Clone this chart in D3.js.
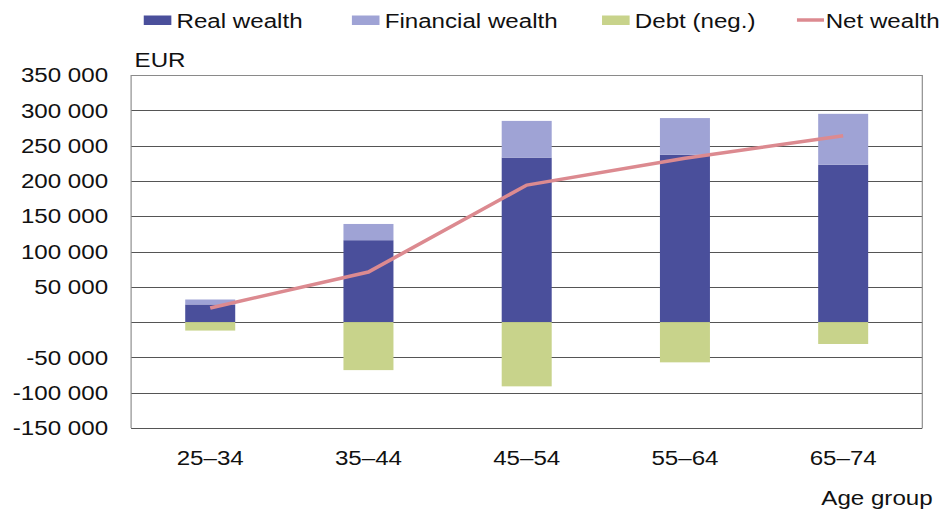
<!DOCTYPE html>
<html>
<head>
<meta charset="utf-8">
<script src="https://cdn.jsdelivr.net/npm/d3@7"></script>
<style>
  body { margin: 0; background: #fff; }
  text { font-family: "Liberation Sans", Arial, sans-serif; fill: #111; }
</style>
</head>
<body>
<script>
// values, EUR
const ageGroups = ["25–34", "35–44", "45–54", "55–64", "65–74"];
const realWealth = [25000, 116000, 233000, 237000, 223000];
const financialWealth = [7000, 23000, 52000, 52000, 72000];
const debt = [-12000, -68000, -91000, -57000, -31000];
const netWealth = [20000, 71000, 194000, 232000, 264000];
const yTicks = [-150000, -100000, -50000, 0, 50000, 100000, 150000, 200000, 250000, 300000, 350000];
const seriesNames = ["Real wealth", "Financial wealth", "Debt (neg.)", "Net wealth"];

const colors = ["#4a4f9b", "#9fa3d5", "#c8d38b", "#dc8a90"];

// the original picture is stretched sideways, so draw in a narrower box and stretch it
const stretch = 1.15;
const W = 952 / stretch, H = 517;
const plotLeft = 114, plotRight = 802, plotTop = 75, plotBottom = 428;

const svg = d3.select("body")
  .append("svg")
  .attr("width", 952)
  .attr("height", H)
  .attr("viewBox", `0 0 ${W} ${H}`)
  .attr("preserveAspectRatio", "none");

const x = d3.scaleBand()
  .domain(ageGroups)
  .range([plotLeft, plotRight])
  .paddingInner(0.684)
  .paddingOuter(0.342);

const y = d3.scaleLinear()
  .domain([-150000, 350000])
  .range([plotBottom, plotTop]);

const fmt = d3.formatLocale({ decimal: ".", thousands: " ", grouping: [3], currency: ["", ""], minus: "-" }).format(",");

// grid
svg.append("g")
  .selectAll("line")
  .data(yTicks)
  .enter()
  .append("line")
  .attr("x1", plotLeft)
  .attr("x2", plotRight)
  .attr("y1", d => Math.round(y(d)) + 0.5)
  .attr("y2", d => Math.round(y(d)) + 0.5)
  .attr("stroke", d => d === 350000 ? "#8a8a8a" : "#555")
  .attr("stroke-width", 1);

// plot frame sides
svg.append("line")
  .attr("x1", plotLeft).attr("x2", plotLeft)
  .attr("y1", y(350000)).attr("y2", y(-150000))
  .attr("stroke", "#8a8a8a");
svg.append("line")
  .attr("x1", plotRight).attr("x2", plotRight)
  .attr("y1", y(350000)).attr("y2", y(-150000))
  .attr("stroke", "#8a8a8a");

// bars
const bars = svg.append("g");
bars.selectAll(".real")
  .data(ageGroups)
  .enter()
  .append("rect")
  .attr("class", "real")
  .attr("x", d => x(d))
  .attr("width", x.bandwidth())
  .attr("y", (d, i) => y(realWealth[i]))
  .attr("height", (d, i) => y(0) - y(realWealth[i]))
  .attr("fill", colors[0]);

bars.selectAll(".fin")
  .data(ageGroups)
  .enter()
  .append("rect")
  .attr("class", "fin")
  .attr("x", d => x(d))
  .attr("width", x.bandwidth())
  .attr("y", (d, i) => y(realWealth[i] + financialWealth[i]))
  .attr("height", (d, i) => y(realWealth[i]) - y(realWealth[i] + financialWealth[i]))
  .attr("fill", colors[1]);

bars.selectAll(".debt")
  .data(ageGroups)
  .enter()
  .append("rect")
  .attr("class", "debt")
  .attr("x", d => x(d))
  .attr("width", x.bandwidth())
  .attr("y", y(0))
  .attr("height", (d, i) => y(debt[i]) - y(0))
  .attr("fill", colors[2]);

// net wealth line
const line = d3.line()
  .x((d, i) => x(ageGroups[i]) + x.bandwidth() / 2)
  .y(d => y(d));

svg.append("path")
  .datum(netWealth)
  .attr("d", line)
  .attr("fill", "none")
  .attr("stroke", colors[3])
  .attr("stroke-width", 3.5)
  .attr("stroke-linejoin", "round");

// y axis labels
const yAxis = svg.append("g")
  .attr("transform", `translate(${plotLeft - 20},0)`)
  .call(d3.axisLeft(y).tickValues(yTicks).tickSize(0).tickPadding(0).tickFormat(d => d === 0 ? "" : fmt(d)));
yAxis.select(".domain").remove();
yAxis.selectAll("text")
  .attr("font-size", 21)
  .attr("font-family", "Liberation Sans, Arial, sans-serif")
  .attr("fill", "#111");

// x axis labels
const xAxis = svg.append("g")
  .attr("transform", `translate(0,${plotBottom})`)
  .call(d3.axisBottom(x).tickSize(0).tickPadding(22));
xAxis.select(".domain").remove();
xAxis.selectAll("text")
  .attr("font-size", 21)
  .attr("font-family", "Liberation Sans, Arial, sans-serif")
  .attr("fill", "#111");

svg.append("text")
  .attr("x", 117)
  .attr("y", 67)
  .attr("font-size", 21)
  .text("EUR");

svg.append("text")
  .attr("x", 811)
  .attr("y", 505)
  .attr("text-anchor", "end")
  .attr("font-size", 21)
  .text("Age group");

// legend
const legendX = [125, 306, 523.5, 693];
const legend = svg.append("g");
seriesNames.forEach((name, i) => {
  const g = legend.append("g").attr("transform", `translate(${legendX[i]},0)`);
  if (i < 3) {
    g.append("rect")
      .attr("x", 0)
      .attr("y", 15.5)
      .attr("width", 24)
      .attr("height", 9.5)
      .attr("fill", colors[i]);
  } else {
    g.append("line")
      .attr("x1", 0).attr("x2", 23.5)
      .attr("y1", 20).attr("y2", 20)
      .attr("stroke", colors[3])
      .attr("stroke-width", 3.5);
  }
  g.append("text")
    .attr("x", i === 3 ? 25 : 28.5)
    .attr("y", 28)
    .attr("font-size", 21)
    .text(name);
});
</script>
</body>
</html>
